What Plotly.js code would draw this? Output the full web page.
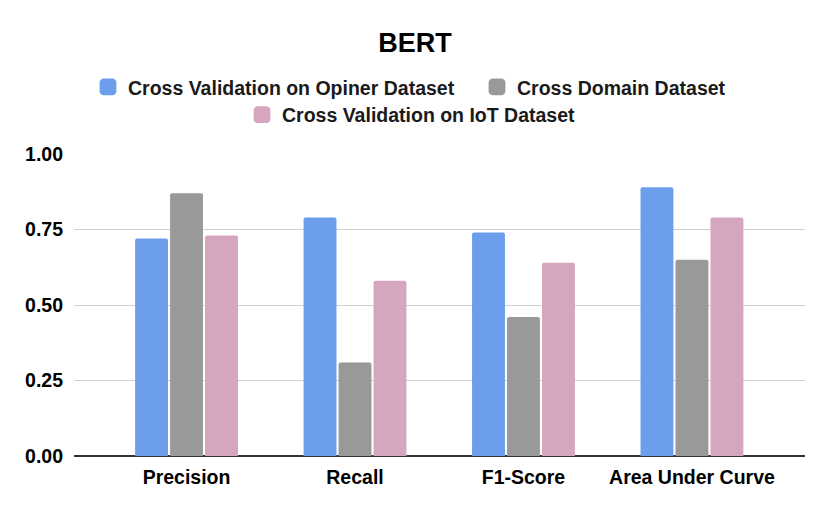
<!DOCTYPE html>
<html>
<head>
<meta charset="utf-8">
<script src="https://cdn.plot.ly/plotly-3.0.1.min.js"></script>
<style>
  html, body { margin: 0; padding: 0; background: #fff; }
  #chart { width: 830px; height: 514px; }
</style>
</head>
<body>
<div id="chart"></div>
<script>
var metrics = ["Precision", "Recall", "F1-Score", "Area Under Curve"];
var opinerCV = [0.72, 0.79, 0.74, 0.89];
var crossDomain = [0.87, 0.31, 0.46, 0.65];
var iotCV = [0.73, 0.58, 0.64, 0.79];
var seriesNames = ["Cross Validation on Opiner Dataset", "Cross Domain Dataset", "Cross Validation on IoT Dataset"];
var colors = ["#6d9eeb", "#999999", "#d5a6bd"];

var font = "Liberation Sans, Arial, sans-serif";

var bar = function(name, values, color, legend){
    return {
        type: "bar",
        name: name,
        x: metrics,
        y: values,
        legend: legend,
        showlegend: true,
        marker: { color: color, line: { width: 0 }, cornerradius: 2 },
        hoverinfo: "y"
    };
};

var data = [
    bar(seriesNames[0], opinerCV, colors[0], "legend"),
    bar(seriesNames[1], crossDomain, colors[1], "legend2"),
    bar(seriesNames[2], iotCV, colors[2], "legend3")
];

// one legend per entry so each can sit where the original puts it
var legendAt = function(px, y){
    return {
        orientation: "h",
        x: (px - 74) / 731,
        xanchor: "left",
        y: y,
        yanchor: "middle",
        font: { family: font, size: 19.5, color: "#1a1a1a", weight: "bold" },
        bgcolor: "rgba(0,0,0,0)",
        itemclick: false
    };
};

var layout = {
    width: 830,
    height: 514,
    margin: { l: 74, r: 25, t: 154, b: 58, autoexpand: false },
    paper_bgcolor: "#ffffff",
    plot_bgcolor: "#ffffff",
    font: { family: font, color: "#000000" },
    showlegend: true,
    title: {
        text: "<b>BERT</b>",
        font: { family: font, size: 27, color: "#000000" },
        x: 0.5,
        xanchor: "center",
        y: 1 - 43 / 514,
        yanchor: "middle"
    },
    barmode: "group",
    bargap: 0.377,
    bargroupgap: 0.06,
    legend: legendAt(88, 1.221),
    legend2: legendAt(477, 1.221),
    legend3: legendAt(242, 1.129),
    xaxis: {
        range: [-0.668, 3.671],
        tickfont: { family: font, size: 19.5, color: "#000000", weight: "bold" },
        tickangle: 0,
        showgrid: false,
        showline: false,
        ticks: "",
        ticklabelstandoff: 7
    },
    yaxis: {
        range: [0, 1],
        dtick: 0.25,
        tickformat: ".2f",
        tickfont: { family: font, size: 19.5, color: "#000000", weight: "bold" },
        gridcolor: "#d0d0d0",
        gridwidth: 1,
        zeroline: true,
        zerolinecolor: "#333333",
        zerolinewidth: 1.5,
        showline: false,
        ticks: "",
        ticklabelstandoff: 10
    }
};

Plotly.newPlot("chart", data, layout, { displayModeBar: false, staticPlot: true }).then(function(gd){
    // bigger legend swatches, like the original
    gd.querySelectorAll(".legendpoints path").forEach(function(p){
        var t = p.getAttribute("transform") || "";
        p.setAttribute("transform", t + " scale(1.4)");
    });
});
</script>
</body>
</html>
